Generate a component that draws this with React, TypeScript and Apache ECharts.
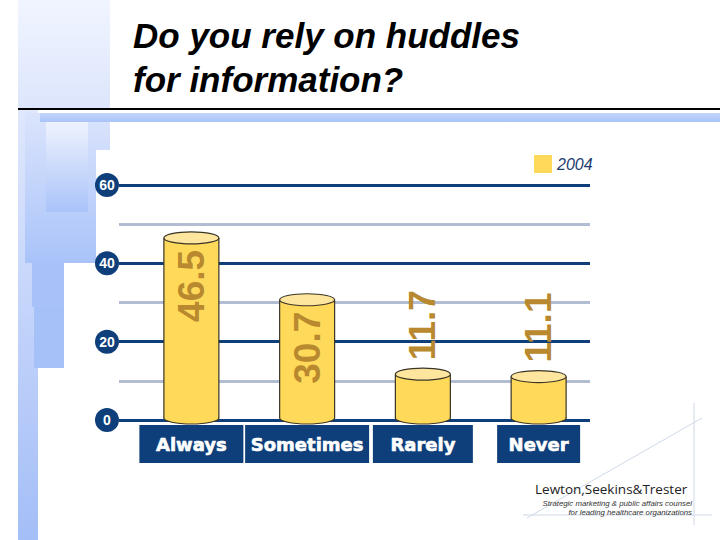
import React, { useEffect, useRef } from "react";
import * as echarts from "echarts";

// ---- data ----
const categories = ["Always", "Sometimes", "Rarely", "Never"];
const values2004 = [46.5, 30.7, 11.7, 11.1];
const seriesName = "2004";
const yMin = 0;
const yMax = 60;
const yStep = 20;
const titleLines = ["Do you rely on huddles", "for information?"];
const logoName = "Lewton,Seekins&Trester";
const logoTagline = [
  "Strategic marketing & public affairs counsel",
  "for leading healthcare organizations",
];

// ---- styles ----
const NAVY = "#0e3f7a";
const MINOR = "#b2bdd4";
const BODY = "#ffd95a";
const TOPFILL = "#ffe69e";
const OUTLINE = "#3a3526";
const LABEL = "#b8892e";
const labelBoxWidths = [104, 124, 100, 83];

const renderCylinder = (params: any, api: any) => {
  const idx = api.value(0);
  const v = api.value(1);
  const top = api.coord([idx, v]);
  const base = api.coord([idx, 0]);
  const band = api.size([1, 0])[0];
  const w = band * 0.475;
  const rx = w / 2;
  const ry = 6;
  const cx = top[0];
  const ty = top[1];
  const by = base[1] - 2;
  const x0 = cx - rx;
  const inside = v > 20;
  const ly = inside ? ty + 48 : ty - 49;
  return {
    type: "group",
    children: [
      {
        type: "ellipse",
        shape: { cx, cy: by, rx, ry },
        style: { fill: BODY, stroke: OUTLINE, lineWidth: 1.2 },
      },
      {
        type: "rect",
        shape: { x: x0, y: ty, width: w, height: by - ty },
        style: { fill: BODY },
      },
      {
        type: "line",
        shape: { x1: x0, y1: ty, x2: x0, y2: by },
        style: { stroke: OUTLINE, lineWidth: 1.2 },
      },
      {
        type: "line",
        shape: { x1: x0 + w, y1: ty, x2: x0 + w, y2: by },
        style: { stroke: OUTLINE, lineWidth: 1.2 },
      },
      {
        type: "ellipse",
        shape: { cx, cy: ty, rx, ry },
        style: { fill: TOPFILL, stroke: OUTLINE, lineWidth: 1.2 },
      },
      {
        type: "text",
        x: cx,
        y: ly,
        rotation: Math.PI / 2,
        style: {
          text: String(v),
          fill: LABEL,
          fontSize: 37,
          fontWeight: "bold",
          fontFamily: '"Liberation Sans", Arial, sans-serif',
          align: "center",
          verticalAlign: "middle",
        },
      },
    ],
  };
};

const vGrad = (a: string, b: string) =>
  new echarts.graphic.LinearGradient(0, 0, 0, 1, [
    { offset: 0, color: a },
    { offset: 1, color: b },
  ]);

export default function App() {
  const ref = useRef<HTMLDivElement>(null);
  useEffect(() => {
    if (!ref.current) return;
    const chart = echarts.init(ref.current, null, { renderer: "svg" });
    const rich: any = {};
    categories.forEach((_, i) => {
      rich["b" + i] = {
        width: labelBoxWidths[i],
        height: 38,
        lineHeight: 38,
        align: "center",
        backgroundColor: NAVY,
        color: "#ffffff",
        fontSize: 18,
        fontWeight: "bold",
        fontFamily: '"DejaVu Sans", sans-serif',
        textBorderColor: "#ffffff",
        textBorderWidth: 0.6,
      };
    });
    const option: any = {
      animation: false,
      backgroundColor: "#ffffff",
      legend: {
        data: [seriesName],
        left: 529,
        top: 150,
        icon: "rect",
        itemWidth: 18,
        itemHeight: 18,
        itemGap: 5,
        selectedMode: false,
        textStyle: {
          fontFamily: '"Liberation Sans", Arial, sans-serif',
          fontStyle: "italic",
          fontSize: 16,
          color: "#1d3c6e",
        },
      },
      grid: [
        { left: 119, right: 130, top: 185, bottom: 120 },
        { left: 133.5, right: 123.5, top: 185, bottom: 120 },
      ],
      xAxis: [
        { gridIndex: 0, type: "value", min: 0, max: 1, show: false },
        {
          gridIndex: 1,
          type: "category",
          data: categories,
          axisLine: { show: false },
          axisTick: { show: false },
          axisLabel: {
            margin: 5,
            interval: 0,
            formatter: (v: string, i: number) => `{b${i}|${v}}`,
            rich,
          },
        },
      ],
      yAxis: [
        {
          gridIndex: 0,
          type: "value",
          min: yMin,
          max: yMax,
          interval: yStep,
          axisLine: { show: false },
          axisTick: { show: false },
          axisLabel: {
            margin: 0,
            formatter: (v: number) => `{c|${v}}`,
            rich: {
              c: {
                width: 24,
                height: 24,
                lineHeight: 24,
                borderRadius: 12,
                backgroundColor: NAVY,
                color: "#ffffff",
                align: "center",
                fontSize: 14,
                fontWeight: "bold",
                fontFamily: '"Liberation Sans", Arial, sans-serif',
              },
            },
          },
          splitLine: { show: true, lineStyle: { color: NAVY, width: 3 } },
          minorTick: { show: false, splitNumber: 2 },
          minorSplitLine: { show: true, lineStyle: { color: MINOR, width: 3 } },
        },
        {
          gridIndex: 1,
          type: "value",
          min: yMin,
          max: yMax,
          interval: yStep,
          show: false,
        },
      ],
      series: [
        {
          type: "custom",
          name: seriesName,
          xAxisIndex: 1,
          yAxisIndex: 1,
          data: values2004.map((v, i) => [i, v]),
          renderItem: renderCylinder,
          itemStyle: { color: BODY },
          z: 5,
        },
      ],
      graphic: [
        // left decoration
        { type: "rect", z: -10, shape: { x: 18, y: 0, width: 92, height: 110 }, style: { fill: vGrad("#f1f5ff", "#dce5fc") } },
        { type: "rect", z: -10, shape: { x: 18, y: 110, width: 20, height: 430 }, style: { fill: vGrad("#dfe7fd", "#a4bef7") } },
        { type: "rect", z: -10, shape: { x: 25, y: 113, width: 85, height: 150 }, style: { fill: vGrad("#dbe4fc", "#a9c3f9") } },
        { type: "rect", z: -10, shape: { x: 46, y: 122, width: 42, height: 90 }, style: { fill: vGrad("#eef2fe", "#a9c3f9") } },
        { type: "rect", z: -10, shape: { x: 32, y: 263, width: 32, height: 44 }, style: { fill: "#a8c2f8" } },
        { type: "rect", z: -10, shape: { x: 34, y: 307, width: 30, height: 61 }, style: { fill: "#a6c0f8" } },
        { type: "rect", z: -10, shape: { x: 40, y: 113, width: 680, height: 9 }, style: { fill: vGrad("#c4d5fb", "#aac3f8") } },
        { type: "rect", z: -9, shape: { x: 96, y: 150, width: 624, height: 390 }, style: { fill: "#ffffff" } },
        { type: "line", z: -8, shape: { x1: 18, y1: 109, x2: 720, y2: 109 }, style: { stroke: "#000000", lineWidth: 2 } },
        // title
        {
          type: "text",
          z: 10,
          x: 133,
          y: 13,
          style: {
            text: titleLines.join("\n"),
            fill: "#000000",
            fontSize: 35,
            lineHeight: 44,
            fontWeight: "bold",
            fontStyle: "italic",
            fontFamily: '"Liberation Sans", Arial, sans-serif',
            align: "left",
            verticalAlign: "top",
          },
        },
        // logo
        { type: "line", z: -8, shape: { x1: 694, y1: 403, x2: 694, y2: 525 }, style: { stroke: "#cfd9e8", lineWidth: 1 } },
        { type: "line", z: -8, shape: { x1: 523, y1: 515, x2: 712, y2: 515 }, style: { stroke: "#cfd9e8", lineWidth: 1 } },
        { type: "line", z: -8, shape: { x1: 527, y1: 518, x2: 702, y2: 418 }, style: { stroke: "#cfd9e8", lineWidth: 1 } },
        {
          type: "text",
          z: 10,
          x: 535,
          y: 489,
          style: {
            text: logoName,
            fill: "#222222",
            fontSize: 13.5,
            fontFamily: '"Open Sans", sans-serif',
            align: "left",
            verticalAlign: "middle",
          },
        },
        {
          type: "text",
          z: 10,
          x: 692,
          y: 498.5,
          style: {
            text: logoTagline.join("\n"),
            fill: "#333333",
            fontSize: 7.8,
            lineHeight: 9,
            fontStyle: "italic",
            fontFamily: '"Liberation Sans", Arial, sans-serif',
            align: "right",
            verticalAlign: "top",
          },
        },
      ],
    };
    chart.setOption(option);
    return () => chart.dispose();
  }, []);
  return (
    <div
      ref={ref}
      style={{ position: "fixed", left: 0, top: 0, width: 720, height: 540 }}
    />
  );
}
